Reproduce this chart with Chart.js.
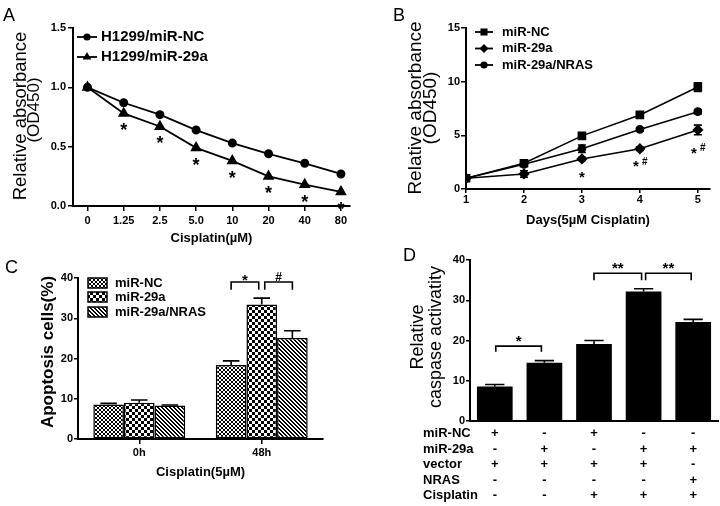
<!DOCTYPE html>
<html>
<head>
<meta charset="utf-8">
<script src="https://cdn.jsdelivr.net/npm/chart.js@4.4.1/dist/chart.umd.min.js"></script>
<style>
  body { margin: 0; background: #fff; }
  #wrap { position: relative; width: 720px; height: 506px; font-family: 'Liberation Sans', Arial, sans-serif; }
  canvas { position: absolute; }
  .letter { position: absolute; font-size: 18px; line-height: 18px; color: #000; }
</style>
</head>
<body>
<div id="wrap">
  <canvas id="chartA" width="360" height="250" style="left:0;top:0"></canvas>
  <canvas id="chartB" width="360" height="250" style="left:360px;top:0"></canvas>
  <canvas id="chartC" width="360" height="256" style="left:0;top:250px"></canvas>
  <canvas id="chartD" width="360" height="256" style="left:360px;top:250px"></canvas>
  <div class="letter" style="left:3px;top:6px">A</div>
  <div class="letter" style="left:393px;top:6px">B</div>
  <div class="letter" style="left:5px;top:258px">C</div>
  <div class="letter" style="left:403px;top:246px">D</div>
</div>
<script>
// panel A - dose response
const aDoses = ['0', '1.25', '2.5', '5.0', '10', '20', '40', '80'];
const aNC = [1.0, 0.87, 0.77, 0.64, 0.53, 0.44, 0.36, 0.27];
const a29a = [1.0, 0.78, 0.67, 0.49, 0.38, 0.25, 0.18, 0.12];
const aSig = ['', '*', '*', '*', '*', '*', '*', '*'];

// panel B - growth curve
const bDays = [1, 2, 3, 4, 5];
const bNC = [1.0, 2.4, 4.95, 6.9, 9.5];
const bNCErr = [0, 0.15, 0.2, 0.2, 0.4];
const b29a = [1.0, 1.4, 2.8, 3.75, 5.5];
const b29aErr = [0, 0.3, 0.15, 0.15, 0.45];
const bNRAS = [1.0, 2.3, 3.75, 5.55, 7.2];
const bNRASErr = [0, 0.15, 0.35, 0.15, 0.2];
const bSig = ['', '', '*', '*#', '*#'];
const bSigAt = [null, null, 1.46, 2.4, 3.7];

// panel C - apoptosis
const cTimes = ['0h', '48h'];
const cNC = [8.6, 18.4];
const cNCErr = [0.25, 1.0];
const c29a = [9.0, 33.4];
const c29aErr = [0.7, 1.6];
const cNRAS = [8.3, 25.1];
const cNRASErr = [0.15, 1.8];

// panel D - caspase
const dRows = ['miR-NC', 'miR-29a', 'vector', 'NRAS', 'Cisplatin'];
const dMiRNC = ['+', '-', '+', '-', '-'];
const dMiR29a = ['-', '+', '-', '+', '+'];
const dVector = ['+', '+', '+', '+', '-'];
const dNRAS = ['-', '-', '-', '-', '+'];
const dCis = ['-', '-', '+', '+', '+'];
const dVals = [8.6, 14.5, 19.1, 32.2, 24.6];
const dErr = [0.45, 0.5, 0.9, 0.65, 0.65];

const FAM = "'Liberation Sans', Arial, sans-serif";
Chart.defaults.font.family = FAM;
Chart.defaults.color = '#000';

const tickFont = { family: FAM, size: 11, weight: 'bold' };
const titleFont = { family: FAM, size: 13, weight: 'bold' };

function drawShape(ctx, style, x, y, r) {
    ctx.beginPath();
    if (style === 'circle') {
        ctx.arc(x, y, r, 0, Math.PI * 2);
    } else if (style === 'triangle') {
        ctx.moveTo(x, y - r);
        ctx.lineTo(x + r * 0.866, y + r * 0.5);
        ctx.lineTo(x - r * 0.866, y + r * 0.5);
        ctx.closePath();
    } else if (style === 'rect') {
        const s = r / Math.SQRT2;
        ctx.rect(x - s, y - s, 2 * s, 2 * s);
    } else if (style === 'rectRot') {
        ctx.moveTo(x, y - r); ctx.lineTo(x + r, y); ctx.lineTo(x, y + r); ctx.lineTo(x - r, y);
        ctx.closePath();
    }
    ctx.fill();
}

// text centred on cy; asterisks sit high in the em box
function drawMark(ctx, text, x, cy, size) {
    const k = text.indexOf('*') >= 0 ? 0.55 : 0.36;
    ctx.save();
    ctx.font = `bold ${size}px ${FAM}`;
    ctx.fillStyle = '#000';
    ctx.textAlign = 'center';
    ctx.textBaseline = 'alphabetic';
    ctx.fillText(text, x, cy + k * size);
    ctx.restore();
}

function yTitlePlugin(cy, lines) {
    return {
        id: 'yTitle',
        afterDraw(chart) {
            const ctx = chart.ctx;
            lines.forEach(l => {
                ctx.save();
                ctx.translate(l.x, l.cy || cy);
                ctx.rotate(-Math.PI / 2);
                ctx.font = l.font;
                ctx.fillStyle = '#000';
                ctx.textAlign = 'center';
                ctx.textBaseline = 'alphabetic';
                ctx.fillText(l.text, 0, 0);
                ctx.restore();
            });
        }
    };
}

function lineLegendPlugin(x0, x1, tx, ys, size) {
    return {
        id: 'lineLegend',
        afterDraw(chart) {
            const ctx = chart.ctx;
            chart.data.datasets.forEach((ds, i) => {
                const y = ys[i];
                ctx.save();
                ctx.strokeStyle = '#000';
                ctx.fillStyle = '#000';
                ctx.lineWidth = 1.8;
                ctx.beginPath(); ctx.moveTo(x0, y); ctx.lineTo(x1, y); ctx.stroke();
                drawShape(ctx, ds.pointStyle, (x0 + x1) / 2, y, ds.pointRadius);
                ctx.font = `bold ${size}px ${FAM}`;
                ctx.textBaseline = 'middle';
                ctx.fillText(ds.label, tx, y);
                ctx.restore();
            });
        }
    };
}

function errorBarsPlugin(both, capPx) {
    return {
        id: 'errorBars',
        afterDatasetsDraw(chart) {
            const ctx = chart.ctx, ys = chart.scales.y;
            chart.data.datasets.forEach((ds, i) => {
                if (!ds.errors) return;
                chart.getDatasetMeta(i).data.forEach((el, j) => {
                    const e = ds.errors[j];
                    if (!e) return;
                    const d = ds.data[j];
                    const v = typeof d === 'object' ? d.y : d;
                    const half = capPx || el.width * 0.27;
                    const top = ys.getPixelForValue(v + e);
                    const bot = both ? ys.getPixelForValue(v - e) : el.y;
                    ctx.save();
                    ctx.strokeStyle = '#000';
                    ctx.lineWidth = 1.6;
                    ctx.beginPath();
                    ctx.moveTo(el.x, bot); ctx.lineTo(el.x, top);
                    ctx.moveTo(el.x - half, top); ctx.lineTo(el.x + half, top);
                    if (both) { ctx.moveTo(el.x - half, bot); ctx.lineTo(el.x + half, bot); }
                    ctx.stroke();
                    ctx.restore();
                });
            });
        }
    };
}

function bracketsPlugin(items) {
    return {
        id: 'brackets',
        afterDatasetsDraw(chart) {
            const ctx = chart.ctx, ys = chart.scales.y;
            items.forEach(b => {
                const x0 = chart.getDatasetMeta(b.from[0]).data[b.from[1]].x + b.from[2];
                const x1 = chart.getDatasetMeta(b.to[0]).data[b.to[1]].x + b.to[2];
                const yt = ys.getPixelForValue(b.top), yl = ys.getPixelForValue(b.leg);
                ctx.save();
                ctx.strokeStyle = '#000';
                ctx.lineWidth = 1.6;
                ctx.beginPath();
                ctx.moveTo(x0, yl); ctx.lineTo(x0, yt); ctx.lineTo(x1, yt); ctx.lineTo(x1, yl);
                ctx.stroke();
                ctx.restore();
                drawMark(ctx, b.text, (x0 + x1) / 2, ys.getPixelForValue(b.textAt), b.size);
            });
        }
    };
}

function makePattern(kind) {
    const c = document.createElement('canvas');
    const g = c.getContext('2d');
    const n = kind === 'checker' ? 6 : 4;
    c.width = c.height = n;
    g.fillStyle = '#fff';
    g.fillRect(0, 0, n, n);
    g.fillStyle = '#000';
    if (kind === 'fine') {
        // diagonal crosshatch
        for (let i = 0; i < 4; i++) {
            g.fillRect(i, i, 1, 1);
            g.fillRect(3 - i, i, 1, 1);
        }
    } else if (kind === 'checker') {
        g.fillRect(0, 0, 3, 3);
        g.fillRect(3, 3, 3, 3);
    } else {
        for (let i = 0; i < 4; i++) {
            g.fillRect(i, i, 1, 1);
            g.fillRect((i + 1) % 4, i, 1, 1);
        }
    }
    return g.createPattern(c, 'repeat');
}

const axisGrid = (tl) => ({ drawOnChartArea: false, tickLength: tl, color: '#000', lineWidth: 1.5 });
const axisBorder = { color: '#000', width: 2 };

// ---------- A ----------
new Chart(document.getElementById('chartA'), {
    type: 'line',
    data: {
        datasets: [
            { label: 'H1299/miR-NC', data: aNC.map((v, i) => ({ x: i, y: v })), pointStyle: 'circle', pointRadius: 3.6,
              borderColor: '#000', backgroundColor: '#000', borderWidth: 1.8, tension: 0 },
            { label: 'H1299/miR-29a', data: a29a.map((v, i) => ({ x: i, y: v })), pointStyle: 'triangle', pointRadius: 5,
              borderColor: '#000', backgroundColor: '#000', borderWidth: 1.8, tension: 0 }
        ]
    },
    options: {
        responsive: false, animation: false, events: [],
        layout: { padding: { left: 0, right: 10, top: 28, bottom: 0 } },
        plugins: { legend: { display: false }, tooltip: { enabled: false } },
        scales: {
            x: {
                type: 'linear', min: -0.4, max: 7.25,
                afterBuildTicks: s => { s.ticks = aDoses.map((_, i) => ({ value: i })); },
                ticks: { callback: v => aDoses[v], font: tickFont, color: '#000', padding: 3, maxRotation: 0 },
                grid: axisGrid(5), border: axisBorder,
                title: { display: true, text: 'Cisplatin(µM)', font: titleFont, color: '#000', padding: { top: 0, bottom: 4 } },
                afterFit: s => { s.height = 44; }
            },
            y: {
                min: 0, max: 1.5,
                ticks: { stepSize: 0.5, callback: v => v.toFixed(1), font: tickFont, color: '#000', padding: 2 },
                grid: axisGrid(5), border: axisBorder,
                afterFit: s => { s.width = 73; }
            }
        }
    },
    plugins: [
        yTitlePlugin(116, [
            { text: 'Relative absorbance', x: 26, font: `18.5px ${FAM}` },
            { text: '(OD450)', x: 39, cy: 110, font: `17px ${FAM}` }
        ]),
        lineLegendPlugin(77, 97, 101, [37, 57], 15),
        {
            id: 'aMarks',
            afterDatasetsDraw(chart) {
                chart.getDatasetMeta(1).data.forEach((el, j) => {
                    if (aSig[j]) drawMark(chart.ctx, aSig[j], el.x, el.y + 13, 18);
                });
            }
        }
    ]
});

// ---------- B ----------
new Chart(document.getElementById('chartB'), {
    type: 'line',
    data: {
        datasets: [
            { label: 'miR-NC', data: bNC.map((v, i) => ({ x: bDays[i], y: v })), errors: bNCErr, pointStyle: 'rect', pointRadius: 5,
              borderColor: '#000', backgroundColor: '#000', borderWidth: 1.6, tension: 0 },
            { label: 'miR-29a', data: b29a.map((v, i) => ({ x: bDays[i], y: v })), errors: b29aErr, pointStyle: 'rectRot', pointRadius: 4.5,
              borderColor: '#000', backgroundColor: '#000', borderWidth: 1.6, tension: 0 },
            { label: 'miR-29a/NRAS', data: bNRAS.map((v, i) => ({ x: bDays[i], y: v })), errors: bNRASErr, pointStyle: 'circle', pointRadius: 3.6,
              borderColor: '#000', backgroundColor: '#000', borderWidth: 1.6, tension: 0 }
        ]
    },
    options: {
        responsive: false, animation: false, events: [],
        layout: { padding: { left: 0, right: 10, top: 28, bottom: 0 } },
        plugins: { legend: { display: false }, tooltip: { enabled: false } },
        scales: {
            x: {
                type: 'linear', min: 1, max: 5.21,
                afterBuildTicks: s => { s.ticks = bDays.map(d => ({ value: d })); },
                ticks: { font: tickFont, color: '#000', padding: 0, maxRotation: 0 },
                grid: axisGrid(4), border: axisBorder,
                title: { display: true, text: 'Days(5µM Cisplatin)', font: titleFont, color: '#000', padding: { top: 0, bottom: 22 } },
                afterFit: s => { s.height = 61; }
            },
            y: {
                min: 0, max: 15,
                ticks: { stepSize: 5, font: tickFont, color: '#000', padding: 1 },
                grid: axisGrid(5), border: axisBorder,
                afterFit: s => { s.width = 106; }
            }
        }
    },
    plugins: [
        errorBarsPlugin(true, 4),
        yTitlePlugin(108, [
            { text: 'Relative absorbance', x: 60.5, font: `19px ${FAM}` },
            { text: '(OD450)', x: 76, font: `19px ${FAM}` }
        ]),
        lineLegendPlugin(115, 133, 142, [32, 48.5, 65], 13),
        {
            id: 'bMarks',
            afterDatasetsDraw(chart) {
                const ctx = chart.ctx, xs = chart.scales.x, ys = chart.scales.y;
                bSig.forEach((s, j) => {
                    if (!s) return;
                    const x = xs.getPixelForValue(bDays[j]), cy = ys.getPixelForValue(bSigAt[j]);
                    if (s === '*') {
                        drawMark(ctx, '*', x, cy, 15);
                    } else {
                        drawMark(ctx, '*', x - 4, cy, 15);
                        drawMark(ctx, '#', x + 5, cy - 2, 10);
                    }
                });
            }
        }
    ]
});

// ---------- C ----------
const pats = [makePattern('fine'), makePattern('checker'), makePattern('diag')];
new Chart(document.getElementById('chartC'), {
    type: 'bar',
    data: {
        labels: cTimes,
        datasets: [
            { label: 'miR-NC', data: cNC, errors: cNCErr, backgroundColor: pats[0] },
            { label: 'miR-29a', data: c29a, errors: c29aErr, backgroundColor: pats[1] },
            { label: 'miR-29a/NRAS', data: cNRAS, errors: cNRASErr, backgroundColor: pats[2] }
        ].map(ds => Object.assign(ds, { borderColor: '#000', borderWidth: 1.5, borderSkipped: false,
                                         categoryPercentage: 0.75, barPercentage: 1 }))
    },
    options: {
        responsive: false, animation: false, events: [],
        layout: { padding: { left: 0, right: 37, top: 28, bottom: 0 } },
        plugins: { legend: { display: false }, tooltip: { enabled: false } },
        scales: {
            x: {
                ticks: { font: tickFont, color: '#000', padding: 2.4, maxRotation: 0 },
                grid: Object.assign(axisGrid(5), { offset: false }), border: axisBorder,
                title: { display: true, text: 'Cisplatin(5µM)', font: titleFont, color: '#000', padding: { top: 0, bottom: 26 } },
                afterFit: s => { s.height = 67; }
            },
            y: {
                min: 0, max: 40,
                ticks: { stepSize: 10, font: tickFont, color: '#000', padding: 1 },
                grid: axisGrid(4), border: axisBorder,
                afterFit: s => { s.width = 78; }
            }
        }
    },
    plugins: [
        errorBarsPlugin(false, 0),
        bracketsPlugin([
            { from: [0, 1, 0], to: [1, 1, -3], top: 39.0, leg: 37.1, text: '*', textAt: 40.3, size: 15 },
            { from: [1, 1, 3], to: [2, 1, 0], top: 39.0, leg: 37.1, text: '#', textAt: 40.3, size: 12 }
        ]),
        yTitlePlugin(102, [{ text: 'Apoptosis cells(%)', x: 53, font: `bold 17px ${FAM}` }]),
        {
            id: 'cLegend',
            afterDraw(chart) {
                const ctx = chart.ctx, ys = [33, 47, 62];
                chart.data.datasets.forEach((ds, i) => {
                    ctx.save();
                    ctx.fillStyle = ds.backgroundColor;
                    ctx.fillRect(88, ys[i] - 5, 19, 10);
                    ctx.strokeStyle = '#000';
                    ctx.lineWidth = 1.5;
                    ctx.strokeRect(88, ys[i] - 5, 19, 10);
                    ctx.fillStyle = '#000';
                    ctx.font = `bold 13px ${FAM}`;
                    ctx.textBaseline = 'middle';
                    ctx.fillText(ds.label, 115, ys[i]);
                    ctx.restore();
                });
            }
        }
    ]
});

// ---------- D ----------
const dLabels = dVals.map((_, i) => [dMiRNC[i], dMiR29a[i], dVector[i], dNRAS[i], dCis[i]]);
const rowFont = { family: FAM, size: 13, weight: 'bold', lineHeight: 1.19 };
new Chart(document.getElementById('chartD'), {
    type: 'bar',
    data: {
        labels: dLabels,
        datasets: [{ label: 'caspase', data: dVals, errors: dErr, backgroundColor: '#000', borderWidth: 0,
                     categoryPercentage: 1, barPercentage: 0.72 }]
    },
    options: {
        responsive: false, animation: false, events: [],
        layout: { padding: { left: 0, right: 2, top: 10, bottom: 0 } },
        plugins: { legend: { display: false }, tooltip: { enabled: false } },
        scales: {
            x: {
                ticks: { font: rowFont, color: '#000', padding: 5, maxRotation: 0, autoSkip: false },
                grid: { display: false, drawTicks: false }, border: axisBorder,
                afterFit: s => { s.height = 85; }
            },
            y: {
                min: 0, max: 40,
                ticks: { stepSize: 10, font: tickFont, color: '#000', padding: 1 },
                grid: axisGrid(4), border: axisBorder,
                afterFit: s => { s.width = 110; }
            }
        }
    },
    plugins: [
        errorBarsPlugin(false, 0),
        bracketsPlugin([
            { from: [0, 0, 1], to: [0, 1, -3], top: 18.6, leg: 17.2, text: '*', textAt: 20.8, size: 15 },
            { from: [0, 2, 0], to: [0, 3, -2], top: 36.7, leg: 35.0, text: '**', textAt: 38.8, size: 15 },
            { from: [0, 3, 2], to: [0, 4, -2], top: 36.7, leg: 35.0, text: '**', textAt: 38.8, size: 15 }
        ]),
        yTitlePlugin(87, [
            { text: 'Relative', x: 63, font: `18px ${FAM}` },
            { text: 'caspase activatity', x: 81, font: `18px ${FAM}` }
        ]),
        {
            id: 'dRows',
            afterDraw(chart) {
                const ctx = chart.ctx, s = chart.scales.x, lh = 13 * 1.19;
                ctx.save();
                ctx.font = `bold 13px ${FAM}`;
                ctx.fillStyle = '#000';
                ctx.textAlign = 'left';
                ctx.textBaseline = 'middle';
                dRows.forEach((r, i) => ctx.fillText(r, 63, s.top + 5 + lh * (i + 0.5)));
                ctx.restore();
            }
        }
    ]
});
</script>
</body>
</html>
